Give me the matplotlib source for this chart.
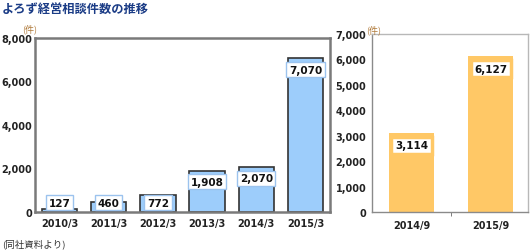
import matplotlib
matplotlib.use("Agg")
import matplotlib.pyplot as plt
from matplotlib.ticker import FuncFormatter

plt.rcParams['font.family'] = ['DejaVu Sans', 'Noto Sans CJK JP']

# ---- data ----
title = "よろず経営相談件数の推移"
unit_label = "(件)"
source_note = "(同社資料より)"

left_categories = ["2010/3", "2011/3", "2012/3", "2013/3", "2014/3", "2015/3"]
left_values = [127, 460, 772, 1908, 2070, 7070]
left_yticks = [0, 2000, 4000, 6000, 8000]

right_categories = ["2014/9", "2015/9"]
right_values = [3114, 6127]
right_yticks = [0, 1000, 2000, 3000, 4000, 5000, 6000, 7000]

fig = plt.figure(figsize=(5.30, 2.53), dpi=100)
fig.patch.set_facecolor("white")

fmt = FuncFormatter(lambda v, p: f"{int(v):,}")
cjk = ['Noto Sans CJK JP', 'DejaVu Sans']

# ---- left chart ----
axL = fig.add_axes([35/530, 1-213/253, 295/530, 174/253])
xl = range(len(left_values))
axL.bar(xl, left_values, width=0.72, color="#9dcdfb", edgecolor="#333333", linewidth=1.2, zorder=2)
axL.set_xlim(-0.5, 5.5)
axL.set_ylim(0, 8000)
axL.set_yticks(left_yticks)
axL.yaxis.set_major_formatter(fmt)
axL.set_xticks(list(xl))
axL.set_xticklabels(left_categories)
axL.tick_params(axis='both', length=0, labelsize=7, colors="#222222")
axL.tick_params(axis='y', pad=2)
axL.tick_params(axis='x', pad=4)
for lab in axL.get_xticklabels() + axL.get_yticklabels():
    lab.set_fontweight("bold")
for s in axL.spines.values():
    s.set_color("#7a7a7a")
    s.set_linewidth(1.8)
for i, v in enumerate(left_values):
    y = max(v - 520, 420)
    axL.text(i, y, f"{v:,}", ha="center", va="center", fontsize=7.5, fontweight="bold",
             color="#111111", zorder=4,
             bbox=dict(boxstyle="square,pad=0.25", facecolor="white", edgecolor="#9cc3ee", linewidth=1))

# ---- right chart ----
axR = fig.add_axes([372/530, 1-213/253, 156/530, 178/253])
xr = range(len(right_values))
axR.bar(xr, right_values, width=0.57, color="#ffc866", edgecolor="none", zorder=2)
axR.set_xlim(-0.5, 1.47)
axR.set_ylim(0, 7000)
axR.set_yticks(right_yticks)
axR.yaxis.set_major_formatter(fmt)
axR.set_xticks(list(xr))
axR.set_xticklabels(right_categories)
axR.set_xticks([0.5], minor=True)
axR.tick_params(axis='both', which='major', length=0, labelsize=7, colors="#222222")
axR.tick_params(axis='x', which='minor', length=3, color="#666666", direction="out")
axR.tick_params(axis='y', pad=4)
axR.tick_params(axis='x', pad=6)
for lab in axR.get_xticklabels() + axR.get_yticklabels():
    lab.set_fontweight("bold")
for name, s in axR.spines.items():
    s.set_color("#b8b8b8")
    s.set_linewidth(1.0)
axR.spines['left'].set_color("#8a8a8a")
axR.spines['bottom'].set_color("#8a8a8a")
for i, v in enumerate(right_values):
    axR.text(i, v - 490, f"{v:,}", ha="center", va="center", fontsize=7.5, fontweight="bold",
             color="#111111", zorder=4,
             bbox=dict(boxstyle="square,pad=0.35", facecolor="white", edgecolor="#ffc866", linewidth=2.5))

# ---- texts ----
fig.text(2/530, 1-9/253, title, ha="left", va="center", fontsize=8.8, fontweight="bold",
         color="#1b3c86", family=cjk)
fig.text(22/530, 1-29/253, unit_label, ha="left", va="center", fontsize=6.5, color="#b07a3a", family=cjk)
fig.text(366/530, 1-30/253, unit_label, ha="left", va="center", fontsize=6.5, color="#b07a3a", family=cjk)
fig.text(2/530, 1-244/253, source_note, ha="left", va="center", fontsize=6.8, color="#333333", family=cjk)

fig.savefig("out.png", dpi=100, facecolor="white")
